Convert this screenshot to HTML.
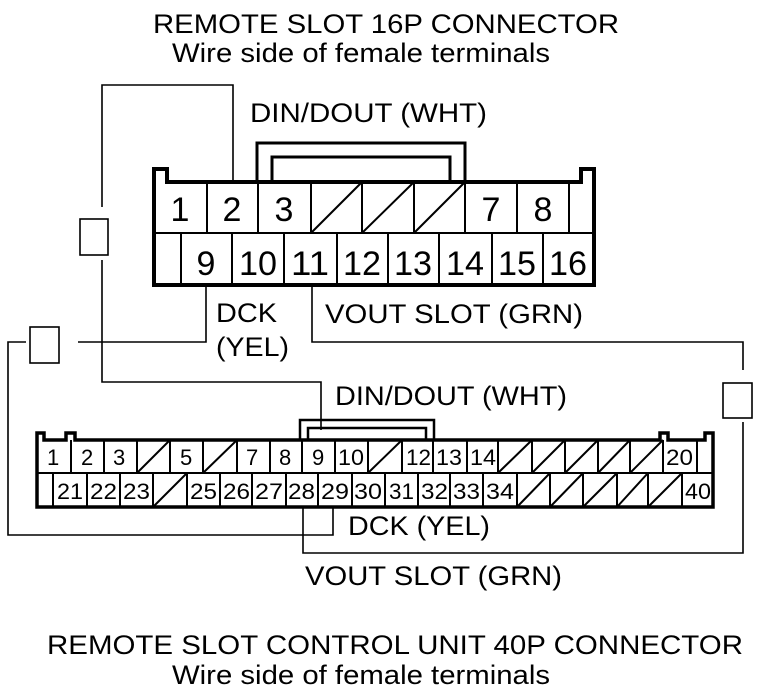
<!DOCTYPE html>
<html><head><meta charset="utf-8"><style>
html,body{margin:0;padding:0;background:#fff;}
svg{display:block;}
text{font-family:"Liberation Sans",Arial,sans-serif;fill:#000;}
</style></head><body>
<svg width="768" height="692" viewBox="0 0 768 692" xmlns="http://www.w3.org/2000/svg">
<text x="153" y="33" font-size="27" textLength="466" lengthAdjust="spacingAndGlyphs">REMOTE SLOT 16P CONNECTOR</text>
<text x="172" y="62" font-size="27" textLength="378" lengthAdjust="spacingAndGlyphs">Wire side of female terminals</text>
<text x="250" y="122" font-size="27" textLength="237" lengthAdjust="spacingAndGlyphs">DIN/DOUT (WHT)</text>
<text x="216" y="322" font-size="27" textLength="61" lengthAdjust="spacingAndGlyphs">DCK</text>
<text x="216" y="356" font-size="27" textLength="73" lengthAdjust="spacingAndGlyphs">(YEL)</text>
<text x="325" y="323" font-size="27" textLength="258" lengthAdjust="spacingAndGlyphs">VOUT SLOT (GRN)</text>
<text x="335" y="405" font-size="27" textLength="232" lengthAdjust="spacingAndGlyphs">DIN/DOUT (WHT)</text>
<text x="348" y="535" font-size="27" textLength="142" lengthAdjust="spacingAndGlyphs">DCK (YEL)</text>
<text x="305" y="585" font-size="27" textLength="257" lengthAdjust="spacingAndGlyphs">VOUT SLOT (GRN)</text>
<text x="47" y="654" font-size="27" textLength="696" lengthAdjust="spacingAndGlyphs">REMOTE SLOT CONTROL UNIT 40P CONNECTOR</text>
<text x="172" y="684" font-size="27" textLength="378" lengthAdjust="spacingAndGlyphs">Wire side of female terminals</text>

<g fill="none" stroke="#000" stroke-width="1.6">
<polyline points="233,182 233,85 102,85 102,207"/>
<rect x="80" y="219" width="28" height="36"/>
<polyline points="102,260 102,382 321,382 321,430"/>
<polyline points="206,285 206,342 78,342"/>
<rect x="30" y="327" width="29" height="36"/>
<polyline points="26,342 8,342 8,535 333,535 333,507"/>
<polyline points="312,285 312,342 743,342 743,370"/>
<rect x="723" y="383" width="29" height="35"/>
<polyline points="743,422 743,553 303,553 303,507"/>
</g>

<g fill="none" stroke="#000">
<path d="M154,285 V169 H167 V182 H581 V169 H594 V285 Z" stroke-width="4"/>
<path d="M257,182 V143 H465 V182 M272,182 V157 H450 V182" stroke-width="3"/>
<g stroke-width="2">
<line x1="154" y1="233" x2="594" y2="233"/>
<line x1="207" y1="182" x2="207" y2="233"/><line x1="258" y1="182" x2="258" y2="233"/>
<line x1="311" y1="182" x2="311" y2="233"/><line x1="362" y1="182" x2="362" y2="233"/>
<line x1="414" y1="182" x2="414" y2="233"/><line x1="465" y1="182" x2="465" y2="233"/>
<line x1="517" y1="182" x2="517" y2="233"/><line x1="569" y1="182" x2="569" y2="233"/>
<line x1="181" y1="233" x2="181" y2="285"/><line x1="232" y1="233" x2="232" y2="285"/>
<line x1="284" y1="233" x2="284" y2="285"/><line x1="337" y1="233" x2="337" y2="285"/>
<line x1="388" y1="233" x2="388" y2="285"/><line x1="439" y1="233" x2="439" y2="285"/>
<line x1="492" y1="233" x2="492" y2="285"/><line x1="543" y1="233" x2="543" y2="285"/>
<line x1="311" y1="233" x2="362" y2="182"/><line x1="362" y1="233" x2="414" y2="182"/><line x1="414" y1="233" x2="465" y2="182"/>
</g>
</g>
<g font-size="34" text-anchor="middle">
<text x="180" y="221">1</text><text x="232" y="221">2</text><text x="284" y="221">3</text>
<text x="491" y="221">7</text><text x="543" y="221">8</text>
<text x="206" y="275">9</text><text x="258" y="275" textLength="38" lengthAdjust="spacingAndGlyphs">10</text><text x="310" y="275" textLength="38" lengthAdjust="spacingAndGlyphs">11</text>
<text x="362" y="275" textLength="38" lengthAdjust="spacingAndGlyphs">12</text><text x="413" y="275" textLength="38" lengthAdjust="spacingAndGlyphs">13</text><text x="465" y="275" textLength="38" lengthAdjust="spacingAndGlyphs">14</text>
<text x="517" y="275" textLength="38" lengthAdjust="spacingAndGlyphs">15</text><text x="568" y="275" textLength="38" lengthAdjust="spacingAndGlyphs">16</text>
</g>

<g fill="none" stroke="#000">
<path d="M37,507 V433 H44 V440 H66 V433 H75 V440 H660 V433 H668 V440 H705 V433 H713 V507 Z" stroke-width="3.5"/>
<path d="M300,440 V420 H434 V440 M308,440 V428 H426 V440" stroke-width="2.5"/>
<g stroke-width="2">
<line x1="37" y1="473" x2="713" y2="473"/>
<path d="M71,440V473M104,440V473M137,440V473M170,440V473M203,440V473M237,440V473M270,440V473M302,440V473M335,440V473M368,440V473M402,440V473M433,440V473M467,440V473M498,440V473M532,440V473M565,440V473M598,440V473M630,440V473M663,440V473M697,440V473"/>
<path d="M53,473V507M87,473V507M120,473V507M153,473V507M187,473V507M220,473V507M252,473V507M286,473V507M318,473V507M352,473V507M385,473V507M418,473V507M450,473V507M483,473V507M517,473V507M550,473V507M583,473V507M617,473V507M648,473V507M682,473V507"/>
<path d="M137,473L170,440M203,473L237,440M368,473L402,440M498,473L532,440M532,473L565,440M565,473L598,440M598,473L630,440M630,473L663,440"/>
<path d="M153,507L187,473M517,507L550,473M550,507L583,473M583,507L617,473M617,507L648,473M648,507L682,473"/>
</g>
</g>
<g font-size="22">
<text x="47" y="465">1</text><text x="81" y="465">2</text><text x="113" y="465">3</text>
<text x="180" y="465">5</text><text x="246" y="465">7</text><text x="279" y="465">8</text>
<text x="312" y="465">9</text><text x="338" y="465" textLength="26" lengthAdjust="spacingAndGlyphs">10</text>
<text x="406" y="465" textLength="25" lengthAdjust="spacingAndGlyphs">12</text>
<text x="436" y="465" textLength="26" lengthAdjust="spacingAndGlyphs">13</text>
<text x="470" y="465" textLength="26" lengthAdjust="spacingAndGlyphs">14</text>
<text x="666" y="465" textLength="27" lengthAdjust="spacingAndGlyphs">20</text>
<text x="57" y="499" textLength="26" lengthAdjust="spacingAndGlyphs">21</text>
<text x="90" y="499" textLength="27" lengthAdjust="spacingAndGlyphs">22</text>
<text x="123" y="499" textLength="27" lengthAdjust="spacingAndGlyphs">23</text>
<text x="190" y="499" textLength="27" lengthAdjust="spacingAndGlyphs">25</text>
<text x="223" y="499" textLength="27" lengthAdjust="spacingAndGlyphs">26</text>
<text x="255" y="499" textLength="28" lengthAdjust="spacingAndGlyphs">27</text>
<text x="288" y="499" textLength="27" lengthAdjust="spacingAndGlyphs">28</text>
<text x="321" y="499" textLength="28" lengthAdjust="spacingAndGlyphs">29</text>
<text x="354" y="499" textLength="28" lengthAdjust="spacingAndGlyphs">30</text>
<text x="389" y="499" textLength="25" lengthAdjust="spacingAndGlyphs">31</text>
<text x="421" y="499" textLength="27" lengthAdjust="spacingAndGlyphs">32</text>
<text x="453" y="499" textLength="27" lengthAdjust="spacingAndGlyphs">33</text>
<text x="486" y="499" textLength="28" lengthAdjust="spacingAndGlyphs">34</text>
<text x="685" y="499" textLength="26" lengthAdjust="spacingAndGlyphs">40</text>
</g>
</svg>
</body></html>
